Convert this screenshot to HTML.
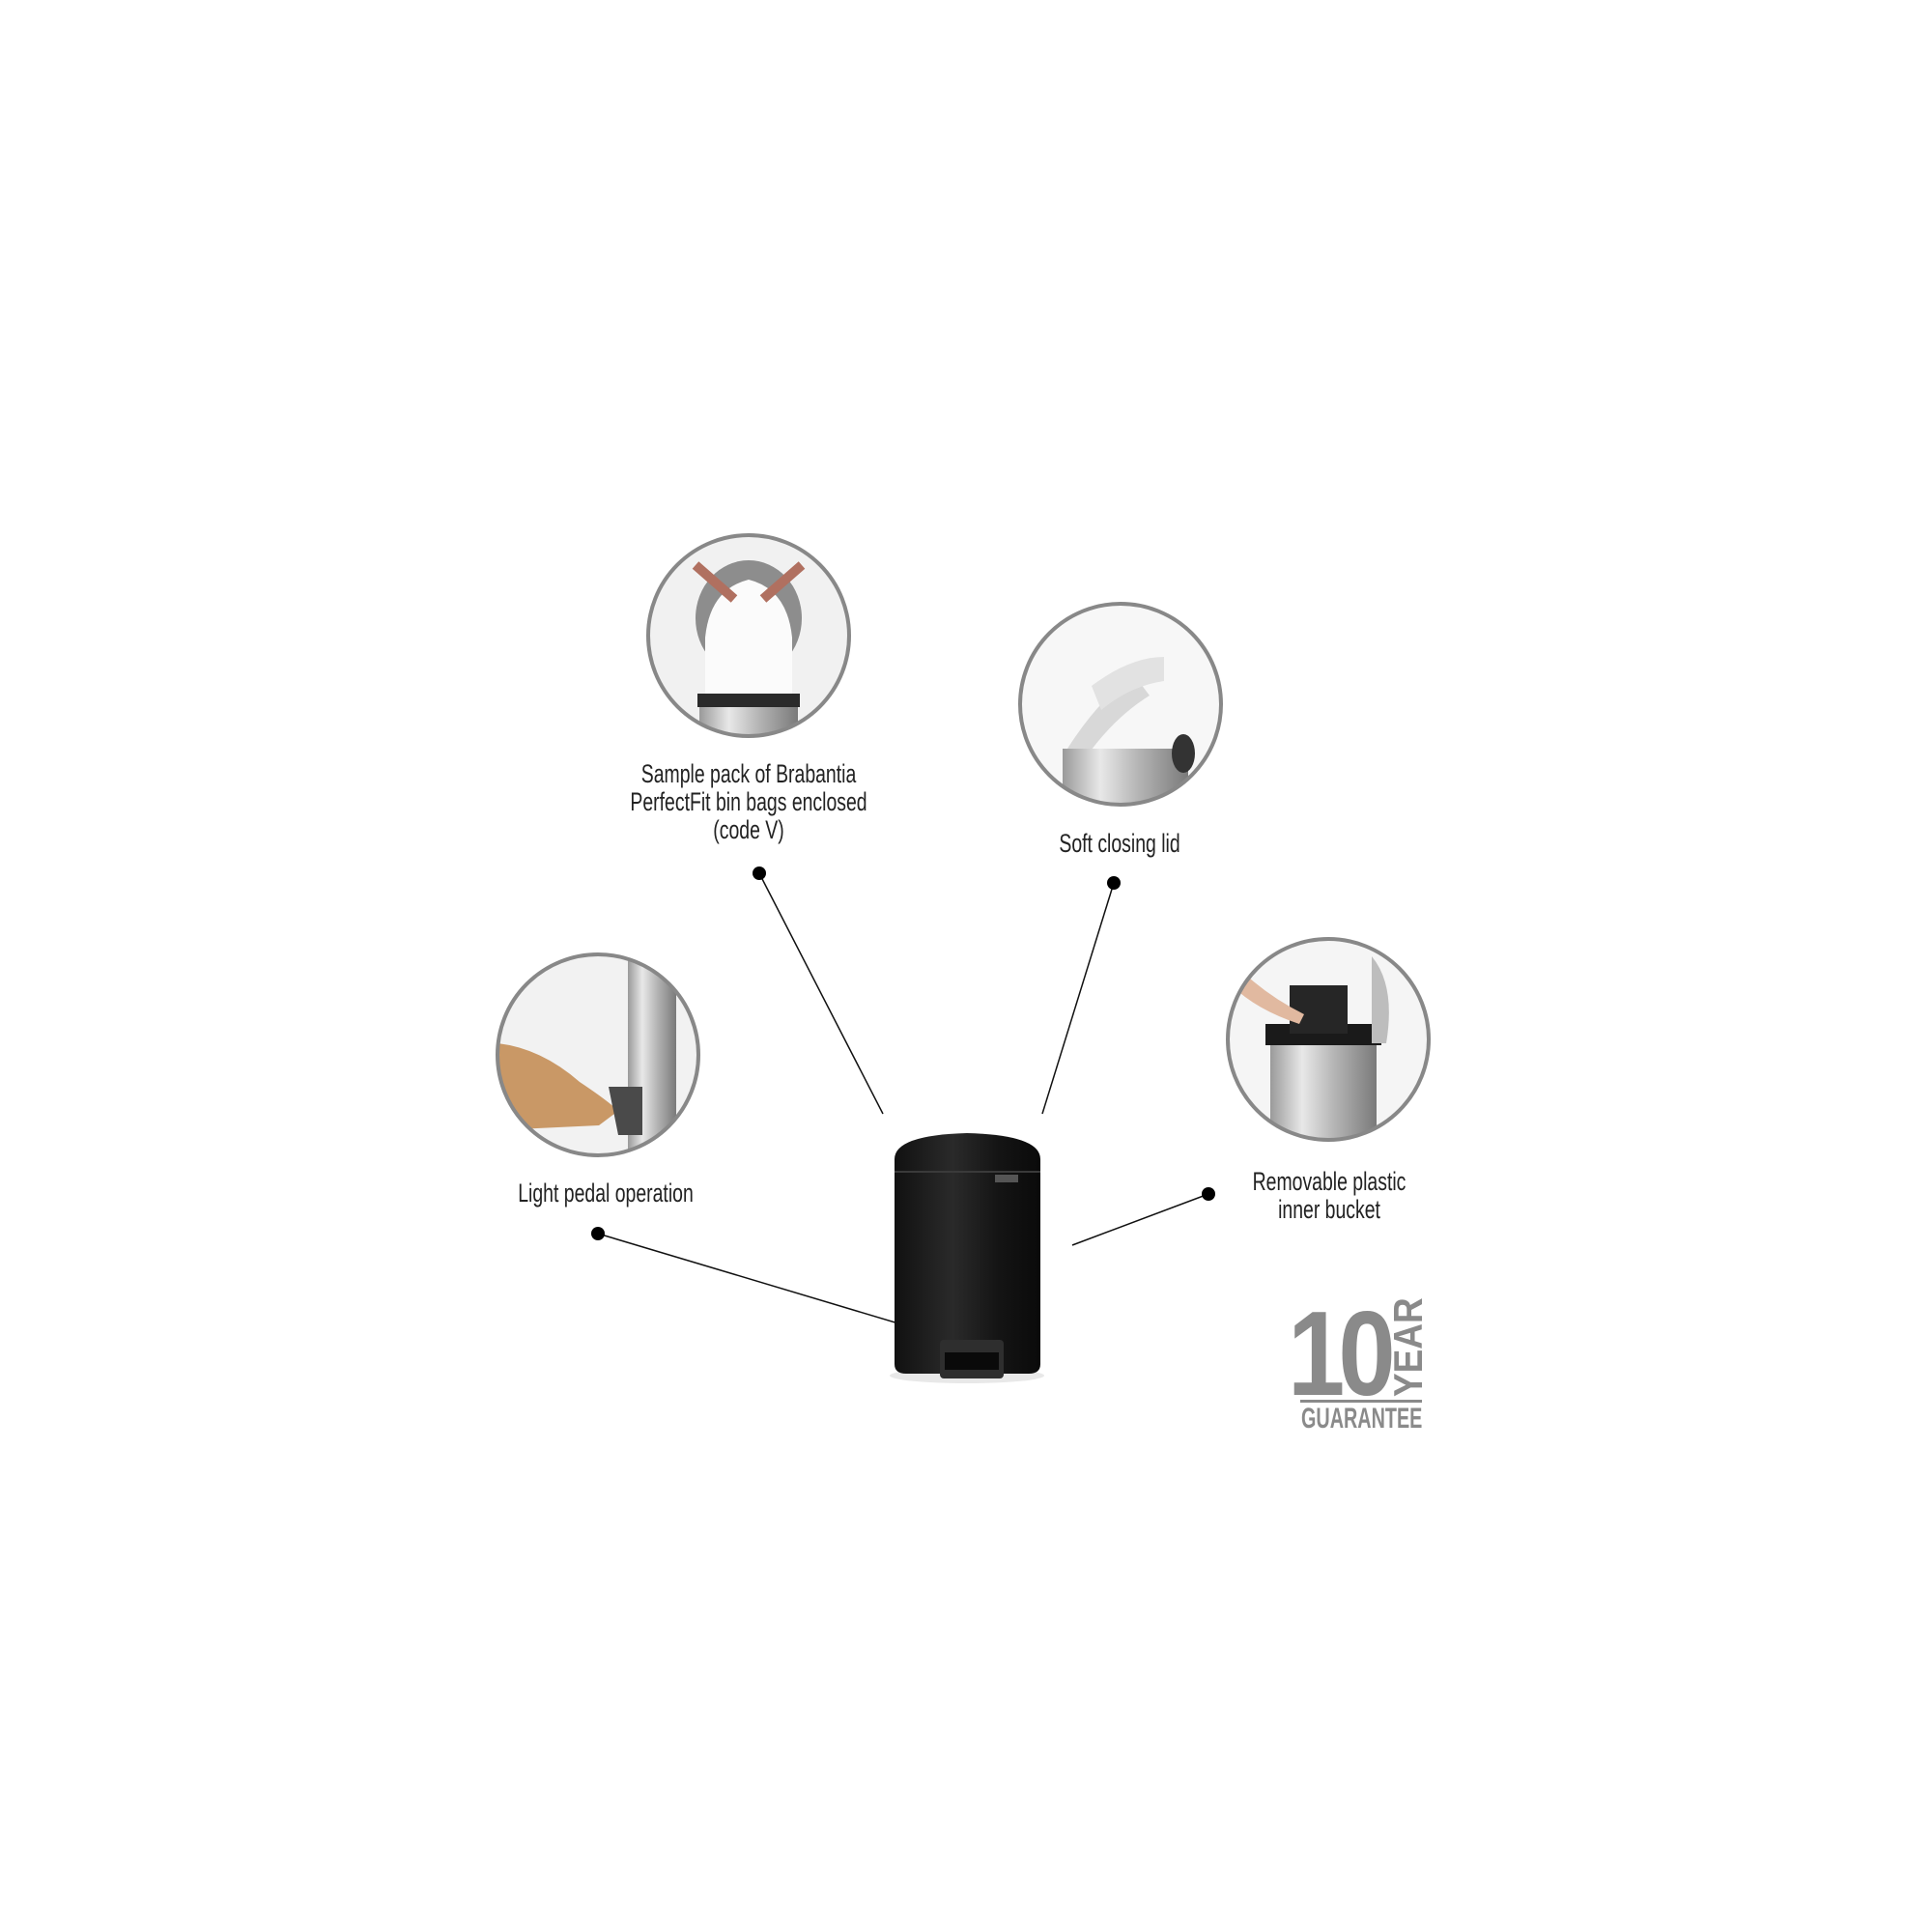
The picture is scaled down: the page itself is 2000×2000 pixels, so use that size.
<!DOCTYPE html>
<html><head><meta charset="utf-8"><style>
html,body{margin:0;padding:0;background:#fff}
svg{display:block}
text{font-family:"Liberation Sans",sans-serif}
</style></head><body>
<svg width="2000" height="2000" viewBox="0 0 2000 2000" xmlns="http://www.w3.org/2000/svg">
<defs>
<linearGradient id="metal" x1="0" x2="1">
<stop offset="0" stop-color="#9a9a9a"/><stop offset="0.3" stop-color="#e8e8e8"/><stop offset="0.6" stop-color="#b5b5b5"/><stop offset="1" stop-color="#7a7a7a"/>
</linearGradient>
<linearGradient id="binb" x1="0" x2="1">
<stop offset="0" stop-color="#111"/><stop offset="0.4" stop-color="#2a2a2a"/><stop offset="0.7" stop-color="#151515"/><stop offset="1" stop-color="#0a0a0a"/>
</linearGradient>
<clipPath id="c1"><circle cx="775" cy="658" r="103"/></clipPath>
<clipPath id="c2"><circle cx="1160" cy="729" r="103"/></clipPath>
<clipPath id="c3"><circle cx="619" cy="1092" r="103"/></clipPath>
<clipPath id="c4"><circle cx="1375" cy="1076" r="103"/></clipPath>
</defs>

<g clip-path="url(#c1)">
<rect x="670" y="550" width="210" height="215" fill="#f1f1f1"/>
<ellipse cx="775" cy="640" rx="55" ry="60" fill="#8d8d8d"/>
<path d="M730 660 Q735 610 775 600 Q815 610 820 660 L820 720 L730 720 Z" fill="#fbfbfb"/>
<rect x="722" y="718" width="106" height="14" fill="#2a2a2a"/>
<rect x="724" y="732" width="102" height="40" fill="url(#metal)"/>
<path d="M720 585 L760 620 M830 585 L790 620" stroke="#b07060" stroke-width="10"/>
</g>
<circle cx="775" cy="658" r="104" fill="none" stroke="#888" stroke-width="4"/>

<g clip-path="url(#c2)">
<rect x="1055" y="625" width="210" height="210" fill="#f7f7f7"/>
<path d="M1105 775 Q1140 720 1175 700 L1190 720 Q1150 745 1120 790 Z" fill="#d8d8d8"/>
<path d="M1130 710 Q1170 680 1205 680 L1205 705 Q1170 710 1140 735 Z" fill="#e2e2e2"/>
<rect x="1100" y="775" width="130" height="70" fill="url(#metal)"/>
<ellipse cx="1225" cy="780" rx="12" ry="20" fill="#333"/>
</g>
<circle cx="1160" cy="729" r="104" fill="none" stroke="#888" stroke-width="4"/>

<g clip-path="url(#c3)">
<rect x="514" y="988" width="210" height="210" fill="#f2f2f2"/>
<rect x="650" y="988" width="50" height="210" fill="url(#metal)"/>
<path d="M515 1080 Q560 1085 600 1120 Q630 1140 640 1150 L620 1165 L515 1170 Z" fill="#c99866"/>
<path d="M630 1125 L665 1125 L665 1175 L640 1175 Z" fill="#4a4a4a"/>
</g>
<circle cx="619" cy="1092" r="104" fill="none" stroke="#888" stroke-width="4"/>

<g clip-path="url(#c4)">
<rect x="1270" y="970" width="210" height="215" fill="#f5f5f5"/>
<rect x="1315" y="1070" width="110" height="120" fill="url(#metal)"/>
<rect x="1310" y="1060" width="120" height="22" fill="#1a1a1a"/>
<rect x="1335" y="1020" width="60" height="50" fill="#262626"/>
<path d="M1420 990 Q1445 1020 1435 1080 L1420 1080 Z" fill="#bdbdbd"/>
<path d="M1280 1000 Q1310 1030 1350 1050 L1345 1060 Q1300 1045 1275 1020 Z" fill="#e1b9a0"/>
</g>
<circle cx="1375" cy="1076" r="104" fill="none" stroke="#888" stroke-width="4"/>

<g font-size="27" fill="#222" text-anchor="middle">
<text transform="translate(775,810) scale(0.72,1)">Sample pack of Brabantia</text>
<text transform="translate(775,839) scale(0.72,1)">PerfectFit bin bags enclosed</text>
<text transform="translate(775,868) scale(0.72,1)">(code V)</text>
<text transform="translate(1159,882) scale(0.72,1)">Soft closing lid</text>
<text transform="translate(627,1244) scale(0.72,1)">Light pedal operation</text>
<text transform="translate(1376,1232) scale(0.72,1)">Removable plastic</text>
<text transform="translate(1376,1261) scale(0.72,1)">inner bucket</text>
</g>

<g stroke="#111" stroke-width="1.5">
<line x1="786" y1="904" x2="914" y2="1153"/>
<line x1="1153" y1="914" x2="1079" y2="1153"/>
<line x1="619" y1="1277" x2="950" y2="1376"/>
<line x1="1251" y1="1236" x2="1110" y2="1289"/>
</g>
<g fill="#000">
<circle cx="786" cy="904" r="7"/>
<circle cx="1153" cy="914" r="7"/>
<circle cx="619" cy="1277" r="7"/>
<circle cx="1251" cy="1236" r="7"/>
</g>

<ellipse cx="1001" cy="1424" rx="80" ry="8" fill="#e8e8e8"/>
<path d="M926 1200 Q926 1175 1001 1173 Q1077 1175 1077 1200 L1077 1412 Q1077 1422 1065 1422 L938 1422 Q926 1422 926 1412 Z" fill="url(#binb)"/>
<line x1="926" y1="1213" x2="1077" y2="1213" stroke="#3a3a3a" stroke-width="2"/>
<rect x="1030" y="1216" width="24" height="8" fill="#555"/>
<rect x="973" y="1387" width="66" height="40" rx="4" fill="#2e2e2e"/>
<rect x="978" y="1400" width="56" height="18" fill="#0a0a0a"/>

<g fill="#8a8a8a" font-weight="bold">
<text transform="translate(1333,1444) scale(0.86,1)" font-size="124" letter-spacing="-8">10</text>
<text transform="translate(1472,1446) rotate(-90) scale(0.88,1)" font-size="42">YEAR</text>
<rect x="1346" y="1449" width="126" height="3"/>
<text transform="translate(1347,1478) scale(0.66,1)" font-size="30">GUARANTEE</text>
</g>
</svg>
</body></html>
